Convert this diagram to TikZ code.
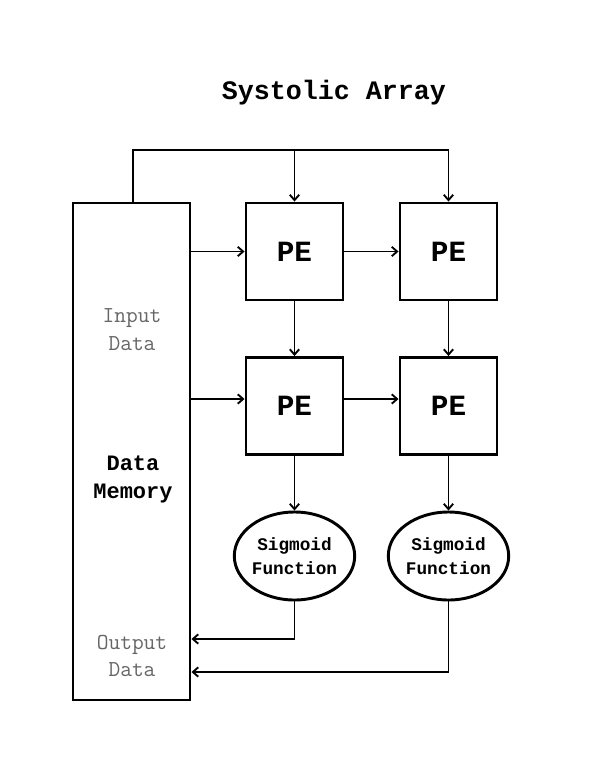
\documentclass[tikz,border=0pt]{standalone}
\usepackage{fontspec}
\newfontfamily\boldmono{Liberation Mono}
\usetikzlibrary{arrows.meta,shapes.geometric}
\begin{document}
\begin{tikzpicture}[x=0.75pt,y=-0.75pt,
  box/.style={draw,line width=2.2pt,inner sep=0pt,minimum width=72.75pt,minimum height=72.75pt,font=\boldmono\bfseries\fontsize{22}{24}\selectfont},
  sig/.style={draw,ellipse,line width=2.2pt,inner sep=0pt,minimum width=87pt,minimum height=66pt,align=center,font=\boldmono\bfseries\fontsize{13.3}{18}\selectfont},
  conn/.style={line width=1.4pt,-{Straight Barb[length=4pt,width=7pt,line width=1.4pt]}},
  wire/.style={line width=1.4pt},
  memtxt/.style={align=center,font=\ttfamily\fontsize{17.1}{20.5}\selectfont,text=black!60,inner sep=0pt},
]
\useasboundingbox (0,0) rectangle (602,779);
\node[font=\boldmono\bfseries\fontsize{20}{24}\selectfont] (title) at (334,93) {Systolic Array};
\node[draw,line width=2.2pt,inner sep=0pt,minimum width=87.75pt,minimum height=372.75pt] (mem) at (131.5,451.5) {};
\node[memtxt] (inp) at (132,329.5) {Input\\Data};
\node[memtxt,text=black,font=\boldmono\bfseries\fontsize{16.5}{21.5}\selectfont] (dm) at (133,479.5) {Data\\Memory};
\node[memtxt] (outp) at (132,656) {Output\\Data};
\node[box] (pe11) at (294.5,251.5) {PE};
\node[box] (pe12) at (448.5,251.5) {PE};
\node[box] (pe21) at (294.5,406) {PE};
\node[box] (pe22) at (448.5,406) {PE};
\node[sig] (s1) at (294.5,556) {Sigmoid\\Function};
\node[sig] (s2) at (448.5,556) {Sigmoid\\Function};
\coordinate (tl) at (133,150);
\coordinate (tr) at (448.5,150);
\coordinate (tm) at (294.5,150);
\coordinate (o1) at (294.5,639);
\coordinate (o2) at (448.5,672);
\coordinate (r2) at (0,399);
% top feed
\draw[wire] (mem.north -| tl) -- (tl) -- (tr);
\draw[conn] (tr) -- (pe12.north);
\draw[conn] (tm) -- (pe11.north);
% horizontal
\draw[conn] (mem.east |- pe11.west) -- (pe11.west);
\draw[conn] (pe11.east) -- (pe12.west);
\draw[conn] (mem.east |- r2) -- (pe21.west |- r2);
\draw[conn] (pe21.east |- r2) -- (pe22.west |- r2);
% vertical
\draw[conn] (pe11.south) -- (pe21.north);
\draw[conn] (pe12.south) -- (pe22.north);
\draw[conn] (pe21.south) -- (s1.north);
\draw[conn] (pe22.south) -- (s2.north);
% outputs
\draw[conn] (s1.south) -- (o1) -- (mem.east |- o1);
\draw[conn] (s2.south) -- (o2) -- (mem.east |- o2);
\end{tikzpicture}
\end{document}
